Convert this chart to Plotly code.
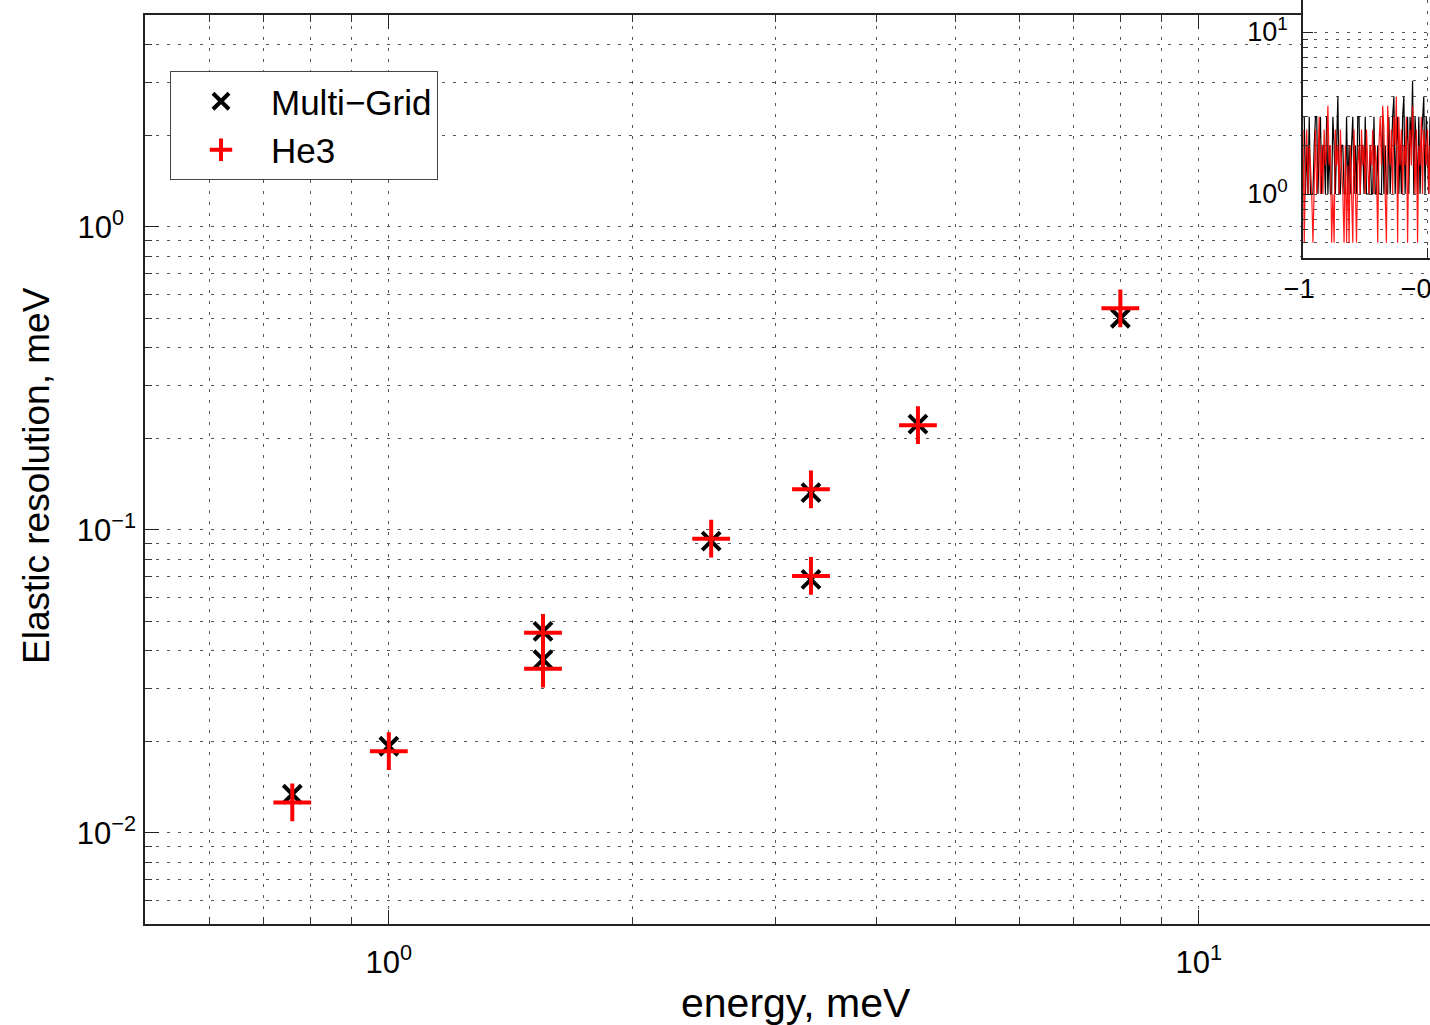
import math
import plotly.graph_objects as go

# ---------------- data ----------------
energy = [0.76, 1.0, 1.55, 1.55, 2.5, 3.32, 3.32, 4.5, 8.0]
res_multigrid = [0.0134, 0.0193, 0.0462, 0.0373, 0.0918, 0.1327, 0.0686, 0.2232, 0.499]
res_he3 = [0.0126, 0.0186, 0.0457, 0.0348, 0.0935, 0.136, 0.0704, 0.2215, 0.538]

x_tickvals = [1, 10]
x_ticktext = ["10<sup>0</sup>", "10<sup>1</sup>"]
x_minorvals = [0.6, 0.7, 0.8, 0.9, 2, 3, 4, 5, 6, 7, 8, 9]
y_tickvals = [0.01, 0.1, 1]
y_ticktext = ["10<sup>\u22122</sup>", "10<sup>\u22121</sup>", "10<sup>0\u00a0\u00a0</sup>"]
y_minorvals = [0.006, 0.007, 0.008, 0.009, 0.02, 0.03, 0.04, 0.05, 0.06, 0.07, 0.08, 0.09,
               0.2, 0.3, 0.4, 0.5, 0.6, 0.7, 0.8, 0.9, 2, 3, 4]

# inset (noisy count traces)
inset_x = [round(-1 + 0.005 * i, 3) for i in range(104)]
inset_black = [3, 3, 1, 2, 1, 3, 1, 1, 1, 2,
               3, 3, 1, 2, 3, 1, 2, 2, 1, 3,
               1, 2, 1, 1, 3, 2, 1, 2, 4, 1,
               1, 2, 2, 1, 1, 3, 1, 2, 1, 2,
               3, 1, 2, 1, 3, 3, 1, 2, 2, 1,
               3, 1, 1, 1, 2, 1, 1, 3, 1, 1,
               2, 1, 1, 1, 3, 1, 2, 1, 1, 3,
               1, 2, 3, 4, 1, 2, 3, 1, 2, 1,
               3, 4, 1, 2, 3, 1, 3, 2, 5, 1,
               3, 2, 1, 3, 1, 2, 3, 4, 1, 3,
               2, 1, 3, 2]
inset_red = [2.5, 0.5, 1.5, 2.5, 1, 2, 1.5, 1, 0.5, 1.5,
             2.5, 1, 1.5, 3, 1, 2, 1, 2.5, 1.5, 2,
             3.5, 1.5, 2, 0.5, 1, 0.5, 2.5, 1.5, 2, 1,
             2.5, 1.5, 1, 0.5, 2, 0.5, 1.5, 0.5, 2, 1,
             0.5, 2.5, 1, 0.5, 1.5, 2, 1, 2.5, 1.5, 2,
             1, 2.5, 1.5, 1, 2, 1.5, 2.5, 1, 2, 1.5,
             0.5, 2, 3, 1.5, 3.5, 2.5, 1, 0.5, 3.5, 2,
             1.5, 2.5, 1, 3, 2, 4, 0.5, 3, 1.5, 2.5,
             1, 2, 1.5, 3, 0.5, 2, 2.5, 1.5, 3.5, 2,
             1, 2.5, 0.5, 2, 1.5, 3, 1, 2.5, 2, 1.5,
             2.5, 1, 2, 1.5]
inset_y_tickvals = [1, 10]
inset_y_ticktext = ["10<sup>0</sup>", "10<sup>1</sup>"]
inset_y_minorvals = [0.5, 0.6, 0.7, 0.8, 0.9, 2, 3, 4, 5, 6, 7, 8, 9]
inset_x_tickvals = [-1, -0.5]
inset_x_ticktext = ["\u22121\u00a0", "\u22120.5"]

x_title = "energy, meV"
y_title = "Elastic resolution, meV"

# ---------------- layout helpers ----------------
W, H = 1430, 1025
FONT = "Liberation Sans, Arial, Helvetica, sans-serif"
GRID = dict(showgrid=True, gridcolor="#555", gridwidth=1.2, griddash="3px,8px")

fig = go.Figure()

fig.add_trace(go.Scatter(
    x=energy, y=res_multigrid, mode="markers", name="Multi\u2212Grid",
    marker=dict(symbol="x-thin", size=18, color="black",
                line=dict(color="black", width=4)),
    xaxis="x", yaxis="y"))
fig.add_trace(go.Scatter(
    x=energy, y=res_he3, mode="markers", name="He3",
    marker=dict(symbol="cross-thin", size=27, color="red",
                line=dict(color="red", width=4)),
    xaxis="x", yaxis="y"))

fig.add_trace(go.Scatter(
    x=inset_x, y=inset_black, mode="lines", showlegend=False,
    line=dict(color="black", width=1.2), xaxis="x2", yaxis="y2"))
fig.add_trace(go.Scatter(
    x=inset_x, y=inset_red, mode="lines", showlegend=False,
    line=dict(color="rgba(255,0,0,0.9)", width=1.2), xaxis="x2", yaxis="y2"))

fig.update_layout(
    width=W, height=H,
    margin=dict(l=0, r=0, t=0, b=0, autoexpand=False),
    paper_bgcolor="white", plot_bgcolor="white",
    font=dict(family=FONT, color="black", size=31),
    xaxis=dict(
        type="log", domain=[145 / W, 1.0], automargin=False,
        range=[math.log10(0.5), math.log10(0.5) + 1285 / 810],
        tickmode="array", tickvals=x_tickvals, ticktext=x_ticktext,
        ticks="inside", ticklen=14, tickwidth=1.3, tickcolor="#222",
        showline=True, linecolor="#222", linewidth=1.5, mirror="ticks",
        ticklabelstandoff=10,
        minor=dict(tickmode="array", tickvals=x_minorvals, ticks="inside",
                   ticklen=7, tickwidth=1, tickcolor="#333", **GRID),
        zeroline=False, **GRID),
    yaxis=dict(
        type="log", domain=[1 - 924 / H, 1 - 15 / H], automargin=False,
        range=[math.log10(0.005), math.log10(5)],
        tickmode="array", tickvals=y_tickvals, ticktext=y_ticktext,
        ticks="inside", ticklen=14, tickwidth=1.3, tickcolor="#222",
        showline=True, linecolor="#222", linewidth=1.5, mirror=False,
        ticklabelstandoff=1,
        minor=dict(tickmode="array", tickvals=y_minorvals, ticks="inside",
                   ticklen=7, tickwidth=1, tickcolor="#333", **GRID),
        zeroline=False, **GRID),
    xaxis2=dict(
        domain=[1303 / W, 1.0], range=[-1, -0.49], anchor="y2", automargin=False,
        tickmode="array", tickvals=inset_x_tickvals, ticktext=inset_x_ticktext,
        ticks="inside", ticklen=10, tickcolor="#222",
        showline=True, linecolor="#222", linewidth=1.5,
        ticklabeloverflow="allow", ticklabelstandoff=6,
        tickfont=dict(size=27), zeroline=False, **GRID),
    yaxis2=dict(
        type="log", domain=[1 - 258 / H, 1.0], range=[-0.395, 1.1975], anchor="x2",
        automargin=False,
        tickmode="array", tickvals=inset_y_tickvals, ticktext=inset_y_ticktext,
        ticks="inside", ticklen=10, tickcolor="#222",
        showline=True, linecolor="#222", linewidth=1.5,
        ticklabelstandoff=8, tickfont=dict(size=27),
        minor=dict(tickmode="array", tickvals=inset_y_minorvals, ticks="inside",
                   ticklen=5, tickcolor="#333", **GRID),
        zeroline=False, **GRID),
    legend=dict(
        x=170 / W, y=1 - 71 / H, xanchor="left", yanchor="top",
        bgcolor="white", bordercolor="#444", borderwidth=1,
        font=dict(size=35, family=FONT), itemwidth=90),
    shapes=[dict(type="rect", xref="x2 domain", yref="y2 domain",
                 x0=-0.961, x1=1.2, y0=-0.376, y1=1.2,
                 fillcolor="white", line=dict(width=0), layer="below")],
    annotations=[
        dict(text=x_title, xref="paper", yref="paper", x=796 / W, y=1 - 1003 / H,
             xanchor="center", yanchor="middle", showarrow=False,
             font=dict(size=41, family=FONT, color="black")),
        dict(text=y_title, xref="paper", yref="paper", x=37 / W, y=1 - 476 / H,
             xanchor="center", yanchor="middle", showarrow=False, textangle=-90,
             font=dict(size=37, family=FONT, color="black")),
    ],
)

fig.write_html("out.html")
